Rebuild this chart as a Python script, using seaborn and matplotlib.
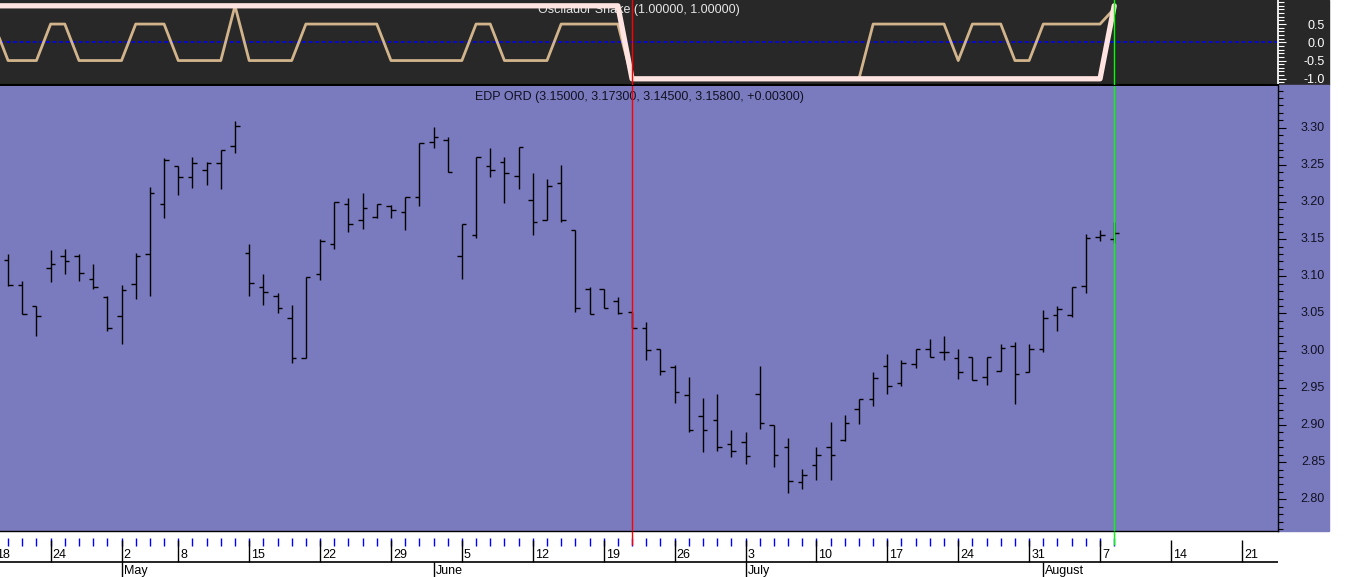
import numpy as np
import pandas as pd
import matplotlib
matplotlib.use("Agg")
import matplotlib.pyplot as plt
import matplotlib.transforms as mtransforms
from matplotlib.patches import Rectangle
from matplotlib.ticker import FixedLocator, MultipleLocator
import seaborn as sns

# EDP ORD daily bars, 19 Apr - 8 Aug 2006
opens = [3.122, 3.088, 3.060, 3.111, 3.127, 3.128, 3.096, 3.072, 3.046, 3.090,
         3.130, 3.197, 3.249, 3.233, 3.243, 3.252, 3.276, 3.132, 3.085, 3.073,
         3.044, 2.990, 3.103, 3.144, 3.197, 3.176, 3.180, 3.195, 3.186, 3.207,
         3.281, 3.284, 3.127, 3.155, 3.249, 3.254, 3.235, 3.203, 3.176, 3.225,
         3.162, 3.083, 3.083, 3.067, 3.052, 3.031, 3.002, 2.978, 2.940, 2.912,
         2.906, 2.874, 2.877, 2.941, 2.900, 2.871, 2.823, 2.846, 2.870, 2.880,
         2.922, 2.935, 2.979, 2.957, 2.982, 3.002, 2.998, 2.990, 2.992, 2.965,
         2.973, 3.006, 2.971, 3.002, 3.048, 3.048, 3.087, 3.153, 3.150]
highs = [3.130, 3.094, 3.060, 3.135, 3.137, 3.130, 3.117, 3.074, 3.088, 3.132,
         3.220, 3.259, 3.249, 3.261, 3.254, 3.270, 3.309, 3.144, 3.103, 3.078,
         3.062, 3.099, 3.150, 3.200, 3.206, 3.212, 3.197, 3.196, 3.207, 3.279,
         3.301, 3.287, 3.171, 3.260, 3.272, 3.261, 3.274, 3.239, 3.231, 3.250,
         3.162, 3.085, 3.083, 3.072, 3.052, 3.039, 3.002, 2.981, 2.965, 2.936,
         2.942, 2.893, 2.891, 2.979, 2.900, 2.882, 2.841, 2.870, 2.904, 2.914,
         2.935, 2.971, 2.996, 2.987, 3.002, 3.016, 3.020, 3.002, 2.992, 2.992,
         3.009, 3.011, 3.009, 3.055, 3.060, 3.085, 3.157, 3.162, 3.173]
lows = [3.087, 3.049, 3.020, 3.093, 3.103, 3.094, 3.083, 3.027, 3.009, 3.069,
        3.074, 3.179, 3.209, 3.219, 3.223, 3.218, 3.266, 3.073, 3.062, 3.051,
        2.984, 2.990, 3.095, 3.137, 3.160, 3.164, 3.178, 3.178, 3.163, 3.194,
        3.272, 3.241, 3.097, 3.152, 3.233, 3.198, 3.217, 3.156, 3.176, 3.173,
        3.052, 3.049, 3.057, 3.049, 3.031, 2.987, 2.967, 2.930, 2.891, 2.863,
        2.865, 2.857, 2.848, 2.894, 2.843, 2.808, 2.814, 2.826, 2.826, 2.878,
        2.901, 2.926, 2.942, 2.953, 2.977, 2.991, 2.987, 2.962, 2.960, 2.954,
        2.973, 2.928, 2.971, 2.998, 3.027, 3.045, 3.077, 3.148, 3.145]
closes = [3.088, 3.049, 3.046, 3.116, 3.120, 3.104, 3.085, 3.031, 3.081, 3.127,
          3.212, 3.257, 3.233, 3.253, 3.253, 3.270, 3.302, 3.091, 3.079, 3.057,
          2.990, 3.099, 3.148, 3.200, 3.171, 3.192, 3.197, 3.189, 3.207, 3.279,
          3.287, 3.241, 3.170, 3.260, 3.243, 3.239, 3.274, 3.173, 3.221, 3.176,
          3.057, 3.049, 3.057, 3.050, 3.031, 3.001, 2.972, 2.945, 2.893, 2.893,
          2.870, 2.865, 2.858, 2.902, 2.859, 2.825, 2.832, 2.859, 2.859, 2.902,
          2.935, 2.963, 2.952, 2.984, 3.002, 2.991, 2.998, 2.971, 2.960, 2.992,
          3.004, 2.968, 3.002, 3.044, 3.056, 3.085, 3.151, 3.155, 3.158]

# Oscilador Snake, 18 Apr - 8 Aug 2006
snake = [1, 1, 1, 1, 1, 1, 1, 1, 1, 1,
         1, 1, 1, 1, 1, 1, 1, 1, 1, 1,
         1, 1, 1, 1, 1, 1, 1, 1, 1, 1,
         1, 1, 1, 1, 1, 1, 1, 1, 1, 1,
         1, 1, 1, 1, 1, -1, -1, -1, -1, -1,
         -1, -1, -1, -1, -1, -1, -1, -1, -1, -1,
         -1, -1, -1, -1, -1, -1, -1, -1, -1, -1,
         -1, -1, -1, -1, -1, -1, -1, -1, -1, 1]
snake_sig = [0.5, -0.5, -0.5, -0.5, 0.5, 0.5, -0.5, -0.5, -0.5, -0.5,
             0.5, 0.5, 0.5, -0.5, -0.5, -0.5, -0.5, 1.0, -0.5, -0.5,
             -0.5, -0.5, 0.5, 0.5, 0.5, 0.5, 0.5, 0.5, -0.5, -0.5,
             -0.5, -0.5, -0.5, -0.5, 0.5, 0.5, -0.5, -0.5, -0.5, -0.5,
             0.5, 0.5, 0.5, 0.5, 0.5, -1, -1, -1, -1, -1,
             -1, -1, -1, -1, -1, -1, -1, -1, -1, -1,
             -1, -1, 0.5, 0.5, 0.5, 0.5, 0.5, 0.5, -0.5, 0.5,
             0.5, 0.5, -0.5, -0.5, 0.5, 0.5, 0.5, 0.5, 0.5, 0.92]

# session calendar for the date axis (1 May closed)
days = pd.bdate_range("2006-04-18", "2006-08-25")
days = days[days != pd.Timestamp("2006-05-01")]
month_names = {5: "May", 6: "June", 7: "July", 8: "August"}

red_day = pd.Timestamp("2006-06-21")
green_day = pd.Timestamp("2006-08-08")
title_main = "EDP ORD (3.15000, 3.17300, 3.14500, 3.15800, +0.00300)"
title_osc = "Oscilador Snake (1.00000, 1.00000)"
price_ticks = [2.80, 2.85, 2.90, 2.95, 3.00, 3.05, 3.10, 3.15, 3.20, 3.25, 3.30]
osc_ticks = [0.5, 0.0, -0.5, -1.0]

sns.set_theme(style="white")
plt.rcParams["font.family"] = ["Liberation Sans", "DejaVu Sans"]
FS = 9

bars = pd.DataFrame({"date": days[1:1 + len(opens)], "open": opens, "high": highs,
                     "low": lows, "close": closes})
bars["k"] = np.arange(1, 1 + len(bars))
osc = pd.DataFrame({"k": np.arange(len(snake)), "snake": snake, "signal": snake_sig})
k_red = int(np.where(days == red_day)[0][0])
k_green = int(np.where(days == green_day)[0][0])

W, H = 1352, 577
fig = plt.figure(figsize=(W / 100, H / 100), dpi=100)
fig.patch.set_facecolor("white")


def box(x0, y0, x1, y1):
    return [x0 / W, 1 - y1 / H, (x1 - x0) / W, (y1 - y0) / H]


DARK = "#282828"
PURPLE = "#7A7ABE"
# coloured margin right of the value axes (sits under the tick labels)
fig.patches.append(Rectangle((1278 / W, 1 - 85 / H), 51 / W, 85 / H,
                             transform=fig.transFigure, color=DARK, zorder=-1))
fig.patches.append(Rectangle((1278 / W, 1 - 531 / H), 51 / W, 446 / H,
                             transform=fig.transFigure, color=PURPLE, zorder=-1))

ax_osc = fig.add_axes(box(0, 0, 1278, 85))
ax = fig.add_axes(box(0, 86, 1278, 531), sharex=ax_osc)
ax_t = fig.add_axes(box(0, 531, 1278, 577), sharex=ax)

xlim = (0.43, 90.55)

# --- oscillator panel
ax_osc.set_facecolor(DARK)
ax_osc.axhline(0, color="#0000FF", lw=1.1, ls=(0, (2.5, 1.8)), zorder=2)
sns.lineplot(data=osc, x="k", y="signal", ax=ax_osc, color="#D2B48C", lw=2.0,
             zorder=3, legend=False)
sns.lineplot(data=osc, x="k", y="snake", ax=ax_osc, color="#FFE4E1", lw=3.8,
             zorder=4, legend=False)
ax_osc.text(0.5, 0.88, title_osc, transform=ax_osc.transAxes, ha="center",
            va="center", color="#E6E6E6", fontsize=FS, zorder=1)
ax_osc.set_ylim(-1.17, 1.159)
ax_osc.set_xlim(*xlim)
ax_osc.set_xlabel("")
ax_osc.set_ylabel("")
ax_osc.yaxis.set_major_locator(FixedLocator(osc_ticks))
ax_osc.yaxis.set_minor_locator(MultipleLocator(0.1))
ax_osc.tick_params(axis="x", bottom=False, labelbottom=False)
ax_osc.tick_params(axis="y", which="both", left=False, right=True, labelleft=False,
                   labelright=False, direction="out", color="white", width=0.8)
ax_osc.tick_params(axis="y", which="major", length=6)
ax_osc.tick_params(axis="y", which="minor", length=4)
for s in ["left", "top"]:
    ax_osc.spines[s].set_visible(False)
ax_osc.spines["right"].set_color("white")
ax_osc.spines["bottom"].set_color("black")
ax_osc.spines["bottom"].set_linewidth(1.5)
tr_osc = mtransforms.blended_transform_factory(ax_osc.transAxes, ax_osc.transData)
for v in osc_ticks:
    ax_osc.text(1325 / 1278, v, f"{v:.1f}", transform=tr_osc, ha="right",
                va="center_baseline", color="white", fontsize=FS, clip_on=False,
                zorder=10)

# --- price panel (OHLC bars)
ax.set_facecolor(PURPLE)
tw = 0.32
ax.vlines(bars["k"], bars["low"], bars["high"], color="black", lw=1.0, zorder=3)
ax.hlines(bars["open"], bars["k"] - tw, bars["k"], color="black", lw=1.0, zorder=3)
ax.hlines(bars["close"], bars["k"], bars["k"] + tw, color="black", lw=1.0, zorder=3)
ax.text(0.5, 0.976, title_main, transform=ax.transAxes, ha="center", va="center",
        color="#111122", fontsize=FS)
ax.set_ylim(2.7573, 3.3561)
ax.set_xlim(*xlim)
ax.yaxis.set_major_locator(FixedLocator(price_ticks))
ax.yaxis.set_minor_locator(MultipleLocator(0.01))
ax.tick_params(axis="x", bottom=False, labelbottom=False)
ax.tick_params(axis="y", which="both", left=False, right=True, labelleft=False,
               labelright=False, direction="out", color="black", width=0.8)
ax.tick_params(axis="y", which="major", length=6)
ax.tick_params(axis="y", which="minor", length=3.5)
for s in ["left", "top"]:
    ax.spines[s].set_visible(False)
for s in ["right", "bottom"]:
    ax.spines[s].set_color("black")
    ax.spines[s].set_linewidth(1.0)
tr_main = mtransforms.blended_transform_factory(ax.transAxes, ax.transData)
for v in price_ticks:
    ax.text(1325 / 1278, v, f"{v:.2f}", transform=tr_main, ha="right", va="center",
            color="#111122", fontsize=FS, clip_on=False, zorder=10)

for a in (ax_osc, ax):
    a.axvline(k_red, color="#FF0000", lw=1.0, zorder=6)
    a.axvline(k_green, color="#00FF00", lw=1.0, zorder=6)

# --- date strip
ax_t.set_facecolor("white")
ax_t.set_ylim(46, 0)
ax_t.set_xlim(*xlim)
ax_t.axis("off")
week_start = [k for k in range(len(days)) if k == 0 or days[k].weekday() <= days[k - 1].weekday()]
month_start = [k for k in range(1, len(days)) if days[k].month != days[k - 1].month]
ax_t.vlines(bars["k"], 7, 15, color="#0000FF", lw=1.0)
ax_t.vlines(week_start, 9, 31, color="black", lw=1.0)
ax_t.hlines(31, *xlim, color="black", lw=1.2)
ax_t.vlines(month_start, 31, 46, color="black", lw=1.0)
ax_t.vlines([k_red], 0, 14, color="#FF0000", lw=1.0)
ax_t.vlines([k_green], 0, 14, color="#00FF00", lw=1.0)
off = mtransforms.offset_copy(ax_t.transData, fig=fig, x=2, y=0, units="dots")
for k in week_start:
    ax_t.text(k, 24, str(days[k].day), transform=off, ha="left", va="center",
              fontsize=FS, color="black", clip_on=True)
for k in month_start:
    ax_t.text(k, 40, month_names[days[k].month], transform=off, ha="left",
              va="center", fontsize=FS, color="black", clip_on=True)

fig.savefig("out.png", dpi=100, facecolor="white")
